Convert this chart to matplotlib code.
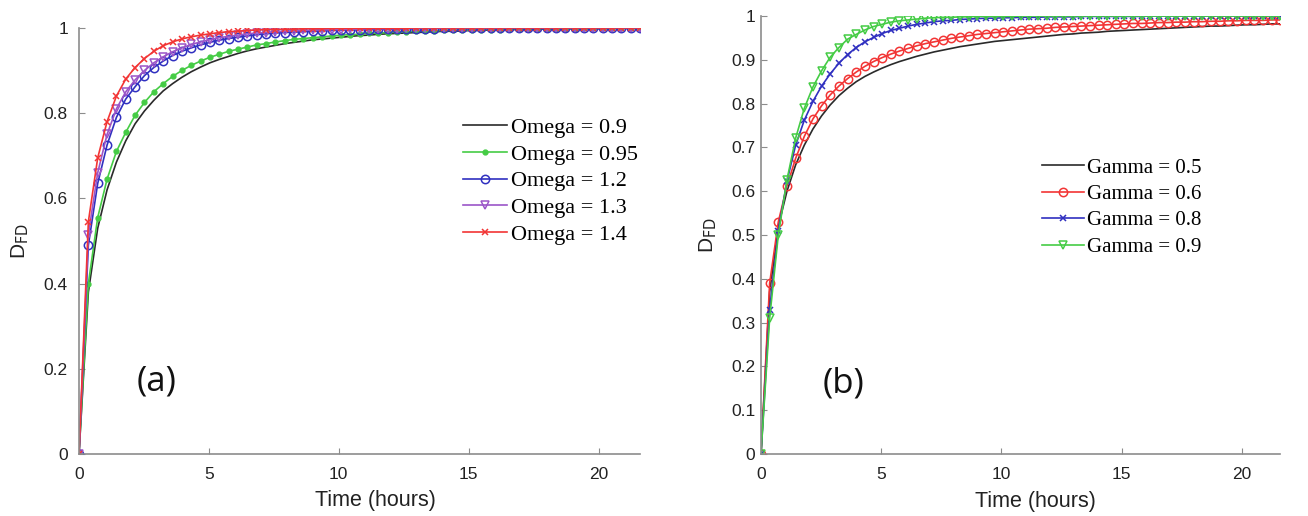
import matplotlib
matplotlib.use('Agg')
import matplotlib.pyplot as plt
import numpy as np

# time grid (hours), 61 samples from 0 to 21.6
time_h = np.linspace(0, 21.6, 61)

# panel (a): D_FD for different Omega
omega_labels = ['Omega = 0.9', 'Omega = 0.95', 'Omega = 1.2', 'Omega = 1.3', 'Omega = 1.4']
omega_09 = [0, .38, .53, .62, .685, .735, .775, .805, .83, .852,
            .869, .884, .897, .908, .918, .926, .933, .94, .946, .951,
            .955, .959, .963, .966, .969, .972, .974, .976, .978, .98,
            .982, .983, .985, .986, .987, .988, .989, .99, .991, .992,
            .992, .993, .994, .994, .995, .995, .996, .996, .996, .997,
            .997, .997, .998, .998, .998, .998, .998, .999, .999, .999, .999]
omega_095 = [0, .40, .555, .645, .71, .755, .795, .825, .85, .869,
             .886, .90, .912, .922, .931, .938, .945, .95, .955, .96,
             .963, .967, .97, .973, .975, .977, .979, .981, .983, .984,
             .985, .987, .988, .989, .99, .991, .992, .992, .993, .994,
             .994, .995, .995, .996, .996, .996, .997, .997, .997, .998,
             .998, .998, .998, .998, .999, .999, .999, .999, .999, .999, .999]
omega_12 = [0, .49, .635, .725, .79, .833, .862, .888, .907, .922,
            .935, .945, .953, .96, .966, .971, .975, .978, .981, .984,
            .986, .988, .989, .99, .991, .992, .993, .994, .995, .995,
            .996, .996, .997, .997, .997, .998, .998, .998, .998, .999,
            .999, .999, .999, .999, .999, .999, .999, .999, .999, .999,
            1, 1, 1, 1, 1, 1, 1, 1, 1, 1, 1]
omega_13 = [0, .515, .66, .75, .81, .85, .878, .90, .918, .932,
            .944, .953, .961, .967, .972, .977, .98, .983, .986, .988,
            .989, .991, .992, .993, .994, .995, .995, .996, .996, .997,
            .997, .998, .998, .998, .998, .999, .999, .999, .999, .999,
            .999, .999, .999, .999, .999, .999, 1, 1, 1, 1,
            1, 1, 1, 1, 1, 1, 1, 1, 1, 1, 1]
omega_14 = [0, .545, .695, .78, .84, .88, .907, .928, .945, .958,
            .967, .974, .979, .983, .986, .989, .991, .992, .994, .995,
            .996, .996, .997, .997, .998, .998, .998, .999, .999, .999,
            .999, .999, .999, .999, .999, .999, 1, 1, 1, 1,
            1, 1, 1, 1, 1, 1, 1, 1, 1, 1,
            1, 1, 1, 1, 1, 1, 1, 1, 1, 1, 1]

# panel (b): D_FD for different Gamma
gamma_labels = ['Gamma = 0.5', 'Gamma = 0.6', 'Gamma = 0.8', 'Gamma = 0.9']
gamma_05 = [0, .37, .52, .60, .66, .705, .742, .772, .797, .818,
            .835, .85, .862, .872, .881, .889, .896, .902, .908, .913,
            .918, .922, .926, .93, .933, .936, .939, .942, .944, .946,
            .948, .95, .952, .954, .956, .958, .959, .961, .962, .963,
            .965, .966, .967, .968, .969, .97, .971, .972, .973, .974,
            .975, .976, .977, .977, .978, .979, .98, .98, .981, .982, .982]
gamma_06 = [0, .39, .53, .612, .675, .725, .765, .795, .82, .84,
            .857, .872, .885, .896, .905, .913, .92, .926, .932, .937,
            .941, .945, .949, .952, .955, .958, .96, .962, .964, .966,
            .968, .97, .971, .972, .974, .975, .976, .977, .978, .979,
            .98, .981, .982, .983, .983, .984, .985, .985, .986, .986,
            .987, .987, .988, .988, .989, .989, .99, .99, .99, .991, .991]
gamma_08 = [0, .33, .51, .623, .705, .762, .805, .84, .868, .892,
            .912, .928, .941, .951, .96, .967, .972, .977, .981, .984,
            .987, .989, .99, .992, .993, .994, .995, .995, .996, .996,
            .997, .997, .997, .998, .998, .998, .998, .999, .999, .999,
            .999, .999, .999, .999, .999, 1, 1, 1, 1, 1,
            1, 1, 1, 1, 1, 1, 1, 1, 1, 1, 1]
gamma_09 = [0, .31, .50, .626, .721, .789, .838, .875, .906, .928,
            .947, .958, .968, .976, .981, .986, .989, .991, .993, .995,
            .996, .997, .997, .998, .998, .999, .999, .999, .999, .999,
            1, 1, 1, 1, 1, 1, 1, 1, 1, 1,
            1, 1, 1, 1, 1, 1, 1, 1, 1, 1,
            1, 1, 1, 1, 1, 1, 1, 1, 1, 1, 1]

BLACK = '#2a2a2a'
GREEN = '#45cc45'
BLUE = '#3030c0'
PURPLE = '#9b55c8'
RED = '#f23535'
AXIS_GRAY = '#8c8c8c'
TEXT = '#222222'

plt.rcParams['font.family'] = ['Liberation Sans', 'DejaVu Sans']


# MATLAB-ish axes: only left/bottom lines, inward ticks
def style_axes(ax, yticks, ylabels, ypad):
    for s in ['top', 'right']:
        ax.spines[s].set_visible(False)
    for s in ['left', 'bottom']:
        ax.spines[s].set_color(AXIS_GRAY)
        ax.spines[s].set_linewidth(1.2)
    ax.set_xlim(0, 21.6)
    ax.set_ylim(0, 1)
    ax.set_xticks([0, 5, 10, 15, 20])
    ax.set_xticklabels(['0', '5', '10', '15', '20'])
    ax.set_yticks(yticks)
    ax.set_yticklabels(ylabels)
    ax.tick_params(direction='in', length=4, color=AXIS_GRAY, labelsize=12.5,
                   labelcolor=TEXT)
    ax.tick_params(axis='x', pad=9)
    ax.tick_params(axis='y', pad=ypad)
    ax.set_xlabel('Time (hours)', fontsize=15.5, color=TEXT, labelpad=4)
    # MATLAB label sits a bit right of the axes centre
    ax.xaxis.set_label_coords(0.528, -0.085)
    ax.set_ylabel(r'D$_{\mathrm{FD}}$', fontsize=15, color=TEXT, labelpad=9)


def add_legend(ax, anchor, size, spacing):
    ax.legend(loc='upper left', bbox_to_anchor=anchor, frameon=False,
              prop={'family': 'Liberation Serif', 'size': size},
              handlelength=2.0, handletextpad=0.15, labelspacing=spacing,
              borderpad=0, borderaxespad=0)


fig = plt.figure(figsize=(13.08, 5.16), dpi=100)
ax1 = fig.add_axes([0.0604, 0.120, 0.429, 0.826])
ax2 = fig.add_axes([0.5818, 0.120, 0.397, 0.849])

# panel (a)
ax1.plot(time_h, omega_09, '-', color=BLACK, lw=1.2, label=omega_labels[0])
ax1.plot(time_h, omega_095, '-', color=GREEN, lw=1.2, marker='.', ms=7, label=omega_labels[1])
ax1.plot(time_h, omega_12, '-', color=BLUE, lw=1.2, marker='o', ms=6, mfc='none', mew=1.1, label=omega_labels[2])
ax1.plot(time_h, omega_13, '-', color=PURPLE, lw=1.2, marker='v', ms=6, mfc='none', mew=1.1, label=omega_labels[3])
ax1.plot(time_h, omega_14, '-', color=RED, lw=1.2, marker='x', ms=5, mew=1.1, label=omega_labels[4])
style_axes(ax1, [0, 0.2, 0.4, 0.6, 0.8, 1], ['0', '0.2', '0.4', '0.6', '0.8', '1'], 8)
add_legend(ax1, (0.684, 0.79), 16, 0.28)
ax1.text(0.103, 0.17, '(a)', transform=ax1.transAxes, fontsize=25,
         family='Open Sans', va='center', ha='left', color='#111111')

# panel (b)
ax2.plot(time_h, gamma_05, '-', color=BLACK, lw=1.2, label=gamma_labels[0])
ax2.plot(time_h, gamma_06, '-', color=RED, lw=1.2, marker='o', ms=6, mfc='none', mew=1.1, label=gamma_labels[1])
ax2.plot(time_h, gamma_08, '-', color=BLUE, lw=1.2, marker='x', ms=4, mew=1.1, label=gamma_labels[2])
ax2.plot(time_h, gamma_09, '-', color=GREEN, lw=1.2, marker='v', ms=6, mfc='none', mew=1.1, label=gamma_labels[3])
style_axes(ax2, np.round(np.arange(0, 1.01, 0.1), 1),
           ['0', '0.1', '0.2', '0.3', '0.4', '0.5', '0.6', '0.7', '0.8', '0.9', '1'], 4)
add_legend(ax2, (0.541, 0.676), 15, 0.33)
ax2.text(0.118, 0.162, '(b)', transform=ax2.transAxes, fontsize=25,
         family='Open Sans', va='center', ha='left', color='#111111')

fig.savefig('out.png', dpi=100)
